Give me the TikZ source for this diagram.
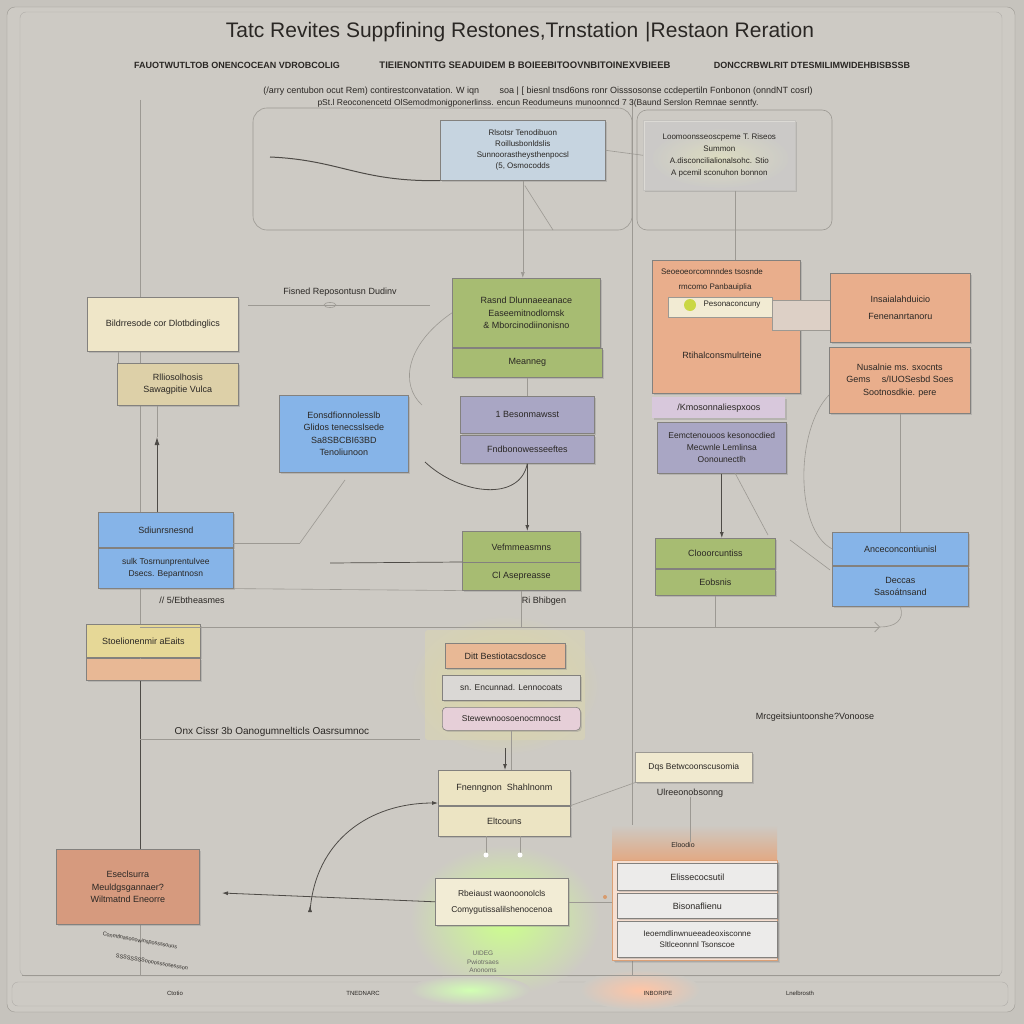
\documentclass[tikz,border=0pt]{standalone}
\usepackage{fontspec}
\setmainfont{Liberation Sans}
\usetikzlibrary{shadows,arrows.meta,calc}
\definecolor{bgc}{HTML}{C6C3BD}
\definecolor{panel}{HTML}{CDCAC4}
\definecolor{lblue}{HTML}{C6D4E0}
\definecolor{cream}{HTML}{EFE6C8}
\definecolor{tan}{HTML}{DDD0A8}
\definecolor{grn}{HTML}{A7BC72}
\definecolor{prp}{HTML}{A9A6C4}
\definecolor{blu}{HTML}{86B4E8}
\definecolor{org}{HTML}{E9AE8C}
\definecolor{lav}{HTML}{D8C8DC}
\definecolor{yel}{HTML}{E6D897}
\definecolor{pch}{HTML}{E8B895}
\definecolor{brn}{HTML}{D69A7E}
\definecolor{gry}{HTML}{DAD8D5}
\definecolor{pnk}{HTML}{E6CFD8}
\definecolor{crm}{HTML}{ECE4C3}
\definecolor{dk}{HTML}{4E4B47}
\definecolor{lt}{HTML}{9C9993}
\definecolor{txt}{HTML}{2A2724}
\newcommand\mybox[7]{\node[box,#6,minimum width={(#4-#2)*1pt},minimum height={(#5-#3)*1pt},anchor=north west] (#1) at (#2,#3) {#7};}
\tikzset{
  box/.style={draw=dk!70,line width=0.6pt,align=center,inner sep=1pt,text=txt,
    font=\fontsize{9}{12.5}\selectfont,
    drop shadow={shadow xshift=1.5pt,shadow yshift=-1.5pt,opacity=.3}},
  lbl/.style={text=txt,font=\fontsize{9}{10}\selectfont,inner sep=0pt},
  dline/.style={draw=dk,line width=0.8pt},
  lline/.style={draw=lt,line width=0.6pt},
  tip/.style={-{Latex[length=6pt,width=4pt]}}
}
\begin{document}
\begin{tikzpicture}[x=1pt,y=-1pt]
\useasboundingbox (0,0) rectangle (1024,1024);
\fill[bgc] (0,0) rectangle (1024,1024);
% panels
\draw[lt,fill=panel,rounded corners=8pt] (7,7) rectangle (1015,1012);
\draw[lt!80,rounded corners=6pt] (20,12) rectangle (1002,976);
\draw[lt!80,rounded corners=6pt] (12,982) rectangle (1008,1006);
% glows
\shade[inner color=yellow!55!green!45,outer color=panel] (505,920) ellipse (95pt and 75pt);
\shade[inner color=red!30!orange!35,outer color=panel] (640,990) ellipse (60pt and 20pt);
\shade[inner color=yellow!40!green!30,outer color=panel] (470,990) ellipse (60pt and 15pt);
\shade[inner color=yellow!25!panel,outer color=panel] (505,685) ellipse (95pt and 70pt);
\fill[yellow!15!panel,opacity=.6,rounded corners=3pt] (425,630) rectangle (585,740);
\shade[inner color=yellow!30!white,outer color=panel,opacity=.7] (720,158) ellipse (70pt and 30pt);
% frame lines
\draw[lline] (140,100) -- (140,975);
\draw[lline] (632,100) -- (632,975);
\draw[lline,rounded corners=14pt] (253,108) rectangle (632,230);
\draw[lline,rounded corners=10pt] (637,110) rectangle (832,230);
\draw[lline] (22,975) -- (1000,975);
% title
\node[font=\fontsize{21}{24}\selectfont,text=txt,inner sep=0pt] (title) at (520,32) {Tatc Revites Suppfining Restones,Trnstation\,\,|Restaon Reration};
\node[lbl,font=\fontsize{9}{10}\selectfont\bfseries] (s1) at (237,65) {FAUOTWUTLTOB ONENCOCEAN VDROBCOLIG};
\node[lbl,font=\fontsize{9.5}{10}\selectfont\bfseries] (s2) at (525,65) {TIEIENONTITG SEADUIDEM B BOIEEBITOOVNBITOINEXVBIEEB};
\node[lbl,font=\fontsize{9}{10}\selectfont\bfseries] (s3) at (812,65) {DONCCRBWLRIT DTESMILIMWIDEHBISBSSB};
\node[lbl,font=\fontsize{9}{10}\selectfont] (l1) at (538,91) {(/arry centubon ocut Rem) contirestconvatation. W iqn \quad\quad soa | [ biesnl tnsd6ons ronr Oisssosonse ccdepertiln Fonbonon (onndNT cosrl)};
\node[lbl,font=\fontsize{8.5}{10}\selectfont] (l2) at (538,103) {pSt.l Reoconencetd OlSemodmonigponerlinss. encun Reodumeuns munoonncd 7 3(Baund Serslon Remnae senntfy.};
% top row boxes
\mybox{tb}{440}{120}{605}{180}{fill=lblue,font=\fontsize{8}{11}\selectfont}{Rlsotsr Tenodibuon\\Roillusbonldslis\\Sunnoorastheysthenpocsl\\(5, Osmocodds}
\node[box,fill=white,fill opacity=.3,text opacity=1,draw=lt!60,minimum width=152pt,minimum height=70pt,anchor=north west,drop shadow={opacity=0},font=\fontsize{8}{12}\selectfont] (tr) at (643,120) {Loomoonsseoscpeme T. Riseos\\Summon\\A.disconcilialionalsohc. Stio\\A pcemil sconuhon bonnon};
% row 2 left
\mybox{cr}{87}{297}{238}{351}{fill=cream}{Bildrresode cor Dlotbdinglics}
\mybox{tn}{117}{363}{238}{405}{fill=tan}{Rlliosolhosis\\Sawagpitie Vulca}
\node[lbl] (lb1) at (340,292) {Fisned Reposontusn Dudinv};
% center column
\mybox{g1}{452}{278}{600}{347}{fill=grn}{Rasnd Dlunnaeeanace\\Easeemitnodlomsk\\\& Mborcinodiinonisno}
\mybox{g2}{452}{348}{602}{377}{fill=grn}{Meanneg}
\mybox{p1}{460}{396}{594}{433}{fill=prp}{1 Besonmawsst}
\mybox{p2}{460}{435}{594}{463}{fill=prp}{Fndbonowesseeftes}
\mybox{b1}{279}{395}{408}{472}{fill=blu}{Eonsdfionnolesslb\\Glidos tenecsslsede\\Sa8SBCBI63BD\\Tenoliunoon}
% right column
\mybox{o1}{652}{260}{800}{393}{fill=org}{}
\node[lbl,font=\fontsize{8}{9}\selectfont] (o1a) at (712,272) {Seoeoeorcomnndes tsosnde};
\node[lbl,font=\fontsize{8}{9}\selectfont] (o1b) at (715,287) {rmcomo Panbauiplia};
\fill[cream!80!white,draw=lt] (668,297) rectangle (772,317);
\fill[grn!60!yellow] (690,305) circle (6pt);
\node[lbl,font=\fontsize{8}{9}\selectfont] (o1c) at (732,305) {Pesonaconcuny};
\draw[lline,fill=gry!80!org] (772,300) rectangle (830,330);
\node[lbl] (o1d) at (722,355) {Rtihalconsmulrteine};
\mybox{o2}{830}{273}{970}{342}{fill=org}{Insaialahduicio\\[4pt]Fenenanrtanoru}
\mybox{o3}{829}{347}{970}{413}{fill=org}{Nusalnie ms. sxocnts\\Gems \quad s/IUOSesbd Soes\\Sootnosdkie. pere}
\mybox{lv}{652}{397}{785}{418}{fill=lav,draw=none}{/Kmosonnaliespxoos}
\mybox{p3}{657}{422}{786}{473}{fill=prp,font=\fontsize{8.5}{12}\selectfont}{Eemctenouoos kesonocdied\\Mecwnle Lemlinsa\\Oonounectlh}
\mybox{g3}{655}{538}{775}{568}{fill=grn}{Clooorcuntiss}
\mybox{g4}{655}{569}{775}{595}{fill=grn}{Eobsnis}
\mybox{b2}{832}{532}{968}{565}{fill=blu}{Anceconcontiunisl}
\mybox{b3}{832}{566}{968}{606}{fill=blu}{Deccas\\Sasoátnsand}
% row 3 left
\mybox{b4}{98}{512}{233}{547}{fill=blu}{Sdiunrsnesnd}
\mybox{b5}{98}{548}{233}{588}{fill=blu,font=\fontsize{8.5}{12}\selectfont}{sulk Tosrnunprentulvee\\Dsecs. Bepantnosn}
\node[lbl] (lb2) at (192,600) {// 5/Ebtheasmes};
\mybox{g5}{462}{531}{580}{562}{fill=grn}{Vefmmeasmns}
\mybox{g6}{462}{562}{580}{590}{fill=grn}{Cl Asepreasse}
\node[lbl] (lb3) at (544,601) {Ri Bhibgen};
% row 4
\mybox{y1}{86}{624}{200}{657}{fill=yel}{Stoelionenmir aEaits}
\mybox{y2}{86}{658}{200}{680}{fill=pch}{}
\node[lbl,font=\fontsize{10}{11}\selectfont] (lb4) at (272,732) {Onx Cissr 3b Oanogumnelticls Oasrsumnoc};
\mybox{m1}{445}{643}{565}{668}{fill=pch}{Ditt Bestiotacsdosce}
\mybox{m2}{442}{675}{580}{700}{fill=gry,font=\fontsize{8.5}{11}\selectfont}{sn. Encunnad. Lennocoats}
\mybox{m3}{442}{707}{580}{730}{fill=pnk,rounded corners=4pt,font=\fontsize{8.5}{11}\selectfont}{Stewewnoosoenocmnocst}
\node[lbl] (lb5) at (815,717) {Mrcgeitsiuntoonshe?Vonoose};
\mybox{f1}{438}{770}{570}{805}{fill=crm}{Fnenngnon \ Shahlnonm}
\mybox{f2}{438}{806}{570}{836}{fill=crm}{Eltcouns}
\mybox{bt}{435}{878}{568}{925}{fill=crm!70!white,font=\fontsize{8.5}{12}\selectfont}{Rbeiaust waonoonolcls\\[4pt]Comygutissalilshenocenoa}
\node[lbl,text=txt!70,font=\fontsize{6.5}{8.5}\selectfont,align=center] (lb8) at (483,962) {UIDEG\\Pwiotrsaes\\Anonoms};
\mybox{dq}{635}{752}{752}{782}{fill=crm!80!white,draw=lt,font=\fontsize{8.5}{11}\selectfont}{Dqs Betwcoonscusomia}
\node[lbl] (lb6) at (690,793) {Ulreeonobsonng};
\shade[top color=panel,bottom color=org!85!brown] (612,825) rectangle (777,862);
\node[lbl,font=\fontsize{7}{8}\selectfont] (lb7) at (683,845) {Eloodio};
\node[box,draw=org!70!brown,fill=org!40!white,minimum width=165pt,minimum height=100pt,anchor=north west,drop shadow={opacity=.2}] (el) at (612,860) {};
\mybox{er1}{617}{863}{777}{890}{fill=gry!50!white,drop shadow={opacity=0}}{Elissecocsutil}
\mybox{er2}{617}{893}{777}{918}{fill=gry!50!white,drop shadow={opacity=0}}{Bisonaflienu}
\mybox{er3}{617}{921}{777}{957}{fill=gry!50!white,drop shadow={opacity=0},font=\fontsize{8}{11}\selectfont}{Ieoemdlinwnueeadeoxisconne\\Sltlceonnnl Tsonscoe}
\mybox{br}{56}{849}{199}{924}{fill=brn}{Eseclsurra\\Meuldgsgannaer?\\Wiltmatnd Eneorre}
\node[lbl,rotate=-10,font=\fontsize{5.5}{6}\selectfont] (lb9) at (140,941) {Conmtlnasooowinspossssouus};
\node[lbl,rotate=-10,font=\fontsize{5.5}{6}\selectfont] (lb10) at (152,962) {SSSSSSSSoooosssosessson};
% bottom labels
\node[lbl,font=\fontsize{6}{7}\selectfont] (bl1) at (175,993) {Ctotio};
\node[lbl,font=\fontsize{6}{7}\selectfont] (bl2) at (363,993) {TNEDNARC};
\node[lbl,font=\fontsize{6}{7}\selectfont] (bl3) at (658,993) {INBORIPE};
\node[lbl,font=\fontsize{6}{7}\selectfont] (bl4) at (800,993) {Lnelbrosth};
% named coordinates for free ends
\coordinate (c1) at (270,157);
\coordinate (c2) at (248,305);
\coordinate (c3) at (430,305);
\coordinate (c4) at (880,627);
\coordinate (c5) at (140,627);
\coordinate (c6) at (140,739);
\coordinate (c7) at (420,739);
\coordinate (c8) at (222,893);
\coordinate (c9) at (310,912);
% connectors
\draw[dk,line width=1pt] (c1) .. controls (340,160) and (360,182) .. (tb.south west);
\draw[lline] (tb.south) ++(2,5) -- (553,230);
\draw[lline,tip] (tb.south) -- (tb.south |- g1.north);
\draw[lline] (tb.east) -- (tr.west);
\draw[lline] (tr.south -| 735,0) -- (735,260);
\draw[lline] (c2) -- (c3);
\draw[lline] (330,305) ellipse (6pt and 2.5pt);
\draw[lline] (g1.west) .. controls (405,345) and (400,385) .. (422,405);
\draw[dk,line width=0.8pt] (425,462) .. controls (460,495) and (520,502) .. (p2.south);
\draw[dline,tip] (p2.south) -- (p2.south |- g5.north);
\draw[lline] (g2.south) -- (p1.north -| g2.south);
\draw[dline,-{Latex[length=8pt,width=5pt]}] (b4.north -| 157,0) -- (157,437);
\draw[lline] (157,437) -- (tn.south -| 157,0);
\draw[lline] (cr.south -| 118,0) -- (tn.north -| 118,0);
\draw[lline] (233,543) -- (300,543);
\draw[lline] (300,543) -- (345,480);
\draw[dk,line width=0.7pt] (330,563) -- (g6.north west);
\draw[lline] (b5.south east) -- (g6.south west);
\draw[lline] (g6.south) -- (g6.south |- c4);
\draw[lline,-{Straight Barb[length=5pt]}] (c5) -- (c4);
\draw[dline,tip] (p3.south) -- (p3.south |- g3.north);
\draw[lline] (735,473) -- (768,535);
\draw[lline] (790,540) -- (830,570);
\draw[lline] (g4.south) -- (g4.south |- c4);
\draw[lline] (o3.south) -- (o3.south |- b2.north);
\draw[lline] (o3.west |- 0,395) .. controls (795,430) and (795,530) .. (b2.west);
\draw[lline] (b3.south) .. controls (905,620) and (895,627) .. (c4);
\draw[dline] (y2.south -| c5) -- (br.north -| c5);
\draw[lline] (y1.south -| c5) -- (y2.north -| c5);
\draw[lline] (c6) -- (c7);
\draw[lline] (m3.south) -- (m3.south |- f1.north);
\draw[dline,tip] (505,748) -- (f1.north -| 505,0);
\draw[dk,line width=0.8pt,tip] (c9) .. controls (315,840) and (370,803) .. (f1.west |- 0,803);
\draw[dk,line width=0.8pt,tip] (bt.west) -- (c8);
\draw[dk,tip] (c9) ++(0,-5) -- ++(0,-1);
\draw[lline] (486,836) -- (486,855);
\draw[lline] (520,836) -- (520,855);
\fill[white] (486,855) circle (2.5pt) (520,855) circle (2.5pt);
\draw[lline] (bt.east) -- (el.west |- bt.east);
\fill[org!60!brown] (605,897) circle (2pt);
\draw[lline] (f1.south east) -- (dq.south west);
\draw[lline] (lb6.south) -- (lb6.south |- lb7.north);
\end{tikzpicture}
\end{document}
